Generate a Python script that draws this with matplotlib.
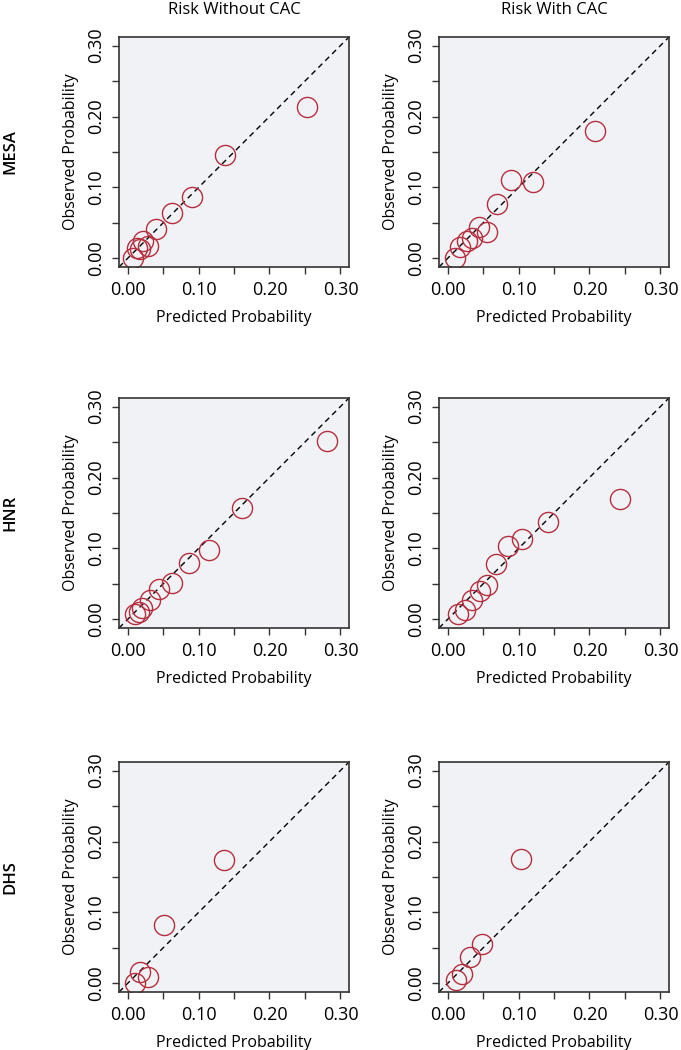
import numpy as np
import matplotlib.pyplot as plt

plt.rcParams['font.family'] = ['Open Sans', 'DejaVu Sans']

# column / row labels
col_titles = ['Risk Without CAC', 'Risk With CAC']
row_labels = ['MESA', 'HNR', 'DHS']

# predicted vs observed probability per cohort
mesa_wo_pred = [0.008, 0.013, 0.018, 0.022, 0.029, 0.040, 0.062, 0.091, 0.138, 0.253]
mesa_wo_obs = [0.000, 0.015, 0.014, 0.025, 0.018, 0.042, 0.064, 0.086, 0.146, 0.214]
mesa_w_pred = [0.010, 0.018, 0.027, 0.034, 0.045, 0.055, 0.070, 0.089, 0.121, 0.208]
mesa_w_obs = [0.000, 0.016, 0.025, 0.029, 0.045, 0.037, 0.077, 0.110, 0.108, 0.180]

hnr_wo_pred = [0.010, 0.016, 0.021, 0.031, 0.045, 0.063, 0.086, 0.115, 0.161, 0.281]
hnr_wo_obs = [0.008, 0.010, 0.016, 0.028, 0.043, 0.051, 0.079, 0.098, 0.157, 0.251]
hnr_w_pred = [0.015, 0.025, 0.035, 0.046, 0.055, 0.068, 0.085, 0.105, 0.141, 0.243]
hnr_w_obs = [0.008, 0.014, 0.028, 0.040, 0.048, 0.078, 0.103, 0.114, 0.138, 0.170]

dhs_wo_pred = [0.010, 0.017, 0.029, 0.051, 0.136]
dhs_wo_obs = [0.000, 0.016, 0.009, 0.082, 0.174]
dhs_w_pred = [0.012, 0.021, 0.032, 0.049, 0.103]
dhs_w_obs = [0.005, 0.013, 0.037, 0.055, 0.175]

data = [
    [(mesa_wo_pred, mesa_wo_obs), (mesa_w_pred, mesa_w_obs)],
    [(hnr_wo_pred, hnr_wo_obs), (hnr_w_pred, hnr_w_obs)],
    [(dhs_wo_pred, dhs_wo_obs), (dhs_w_pred, dhs_w_obs)],
]

tick_pos = [0.0, 0.05, 0.10, 0.15, 0.20, 0.25, 0.30]
tick_lab = ['0.00', '', '0.10', '', '0.20', '', '0.30']

fig = plt.figure(figsize=(6.81, 10.5), dpi=100)

lefts = [119 / 681, 439 / 681]
bottoms = [1 - 267 / 1050, 1 - 628 / 1050, 1 - 992 / 1050]
w = 230 / 681
h = 230 / 1050

for r in range(3):
    for c in range(2):
        ax = fig.add_axes([lefts[c], bottoms[r], w, h])
        ax.set_facecolor('#f1f2f5')
        pred, obs = data[r][c]
        ax.axline((0, 0), slope=1, color='black', lw=1, linestyle=(0, (4, 3)))
        ax.plot(pred, obs, 'o', mfc='none', mec='#b52f3e', ms=14.5, mew=1.0)
        ax.set_xlim(-0.012, 0.312)
        ax.set_ylim(-0.012, 0.312)
        ax.set_xticks(tick_pos)
        ax.set_xticklabels(tick_lab, fontsize=13)
        ax.set_yticks(tick_pos)
        ax.set_yticklabels(tick_lab, fontsize=13, rotation=90, va='center')
        ax.tick_params(length=5, width=1, color='#333333', pad=5)
        for s in ax.spines.values():
            s.set_color('#333333')
            s.set_linewidth(1.2)
        ax.set_xlabel('Predicted Probability', fontsize=11.5, labelpad=8)
        ax.set_ylabel('Observed Probability', fontsize=11.5, labelpad=6)
        if r == 0:
            fig.text(lefts[c] + w / 2, 1 - 10 / 1050, col_titles[c],
                     ha='center', va='center', fontsize=12)
    fig.text(10 / 681, bottoms[r] + h / 2, row_labels[r], rotation=90,
             ha='center', va='center', fontsize=12, fontweight='semibold')

fig.savefig('out.png', dpi=100)
